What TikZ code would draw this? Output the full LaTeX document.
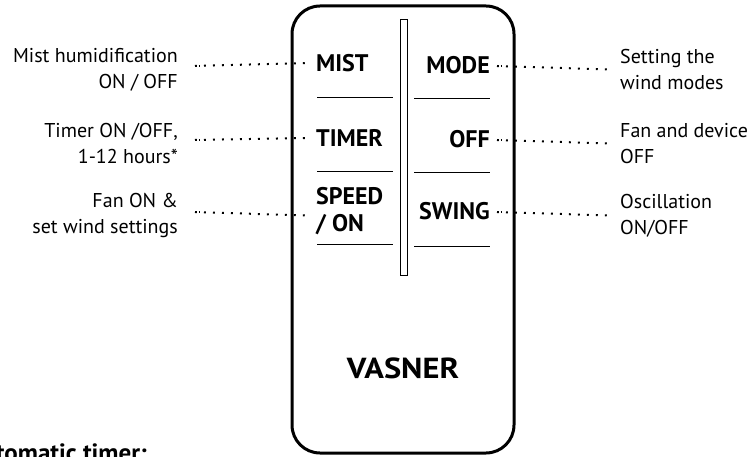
\documentclass[tikz,border=0pt]{standalone}
\usepackage{fontspec}
\setmainfont{PT Sans}
\begin{document}
\begin{tikzpicture}[x=1pt,y=-1pt,
  desc/.style={font=\fontsize{20}{26}\selectfont, inner sep=0pt},
  btn/.style={font=\fontsize{24}{27}\selectfont\bfseries, inner sep=0pt},
  sep/.style={line width=1pt},
  dotline/.style={line width=2pt, dash pattern=on 1.8pt off 7.2pt},
  extradot/.style={line width=2pt, dash pattern=on 1.8pt off 2pt}
]
\useasboundingbox (0,0) rectangle (755,457);
\clip (0,0) rectangle (755,457);
% remote body
\draw[line width=3pt, rounded corners=28pt] (292,6) rectangle (514,453);
\node[draw, line width=1pt, minimum width=7pt, minimum height=255pt, inner sep=0pt] (slot) at (403.5,147.5) {};
% separators
\draw[sep] (317,98) -- (393,98);
\draw[sep] (317,172) -- (393,172);
\draw[sep] (317,245) -- (393,245);
\draw[sep] (414,99) -- (490,99);
\draw[sep] (414,173) -- (490,173);
\draw[sep] (414,247) -- (490,247);
% buttons
\node[btn, anchor=west] (mist) at (316,63) {MIST};
\node[btn, anchor=west] (timer) at (316,138) {TIMER};
\node[btn, anchor=west, align=left] (speed) at (316,211) {SPEED\\/ ON};
\node[btn, anchor=east] (mode) at (490,65) {MODE};
\node[btn, anchor=east] (off) at (490,139) {OFF};
\node[btn, anchor=east] (swing) at (490,211) {SWING};
% descriptions
\node[desc, anchor=east, align=right] (mistd) at (178,69.5) {Mist humidification\\ON / OFF};
\node[desc, anchor=east, align=right] (timerd) at (178,143.5) {Timer ON /OFF,\\1-12 hours*};
\node[desc, anchor=east, align=right] (speedd) at (178,215.5) {Fan ON \&\\set wind settings};
\node[desc, anchor=west, align=left] (moded) at (620,69.5) {Setting the\\wind modes};
\node[desc, anchor=west, align=left] (offd) at (620,143.5) {Fan and device\\OFF};
\node[desc, anchor=west, align=left] (swingd) at (620,215.5) {Oscillation\\ON/OFF};
% connectors
\coordinate (l1) at (195,66); \coordinate (l2) at (195,140); \coordinate (l3) at (195,212);
\coordinate (r1) at (497,66); \coordinate (r2) at (497,140); \coordinate (r3) at (497,212);
\draw[dotline] (l1) -- (mist.west -| 305,0);
\draw[dotline] (l2) -- (timer.west -| 305,0);
\draw[dotline] (l3) -- (speedd.east -| 305,0);
\draw[extradot] (l1) -- +(4,0);
\draw[extradot] (l2) -- +(4,0);
\draw[extradot] (l3) -- +(4,0);
\draw[dotline] (r1) -- (moded.west -| 610,0);
\draw[dotline] (r2) -- (offd.west -| 610,0);
\draw[dotline] (r3) -- (swingd.west -| 610,0);
\draw[extradot] (r1) -- +(4,0);
\draw[extradot] (r2) -- +(4,0);
\draw[extradot] (r3) -- +(4,0);
% brand
\node[font=\fontsize{29}{29}\selectfont\bfseries, inner sep=0pt] (brand) at (403,368) {\scalebox{1.12}[1]{VASNER}};
% footnote heading (clipped as in the reference)
\node[font=\fontsize{25}{29}\selectfont\bfseries, anchor=base east, inner sep=0pt] (auto) at (147,461) {Automatic timer:};
\end{tikzpicture}
\end{document}
